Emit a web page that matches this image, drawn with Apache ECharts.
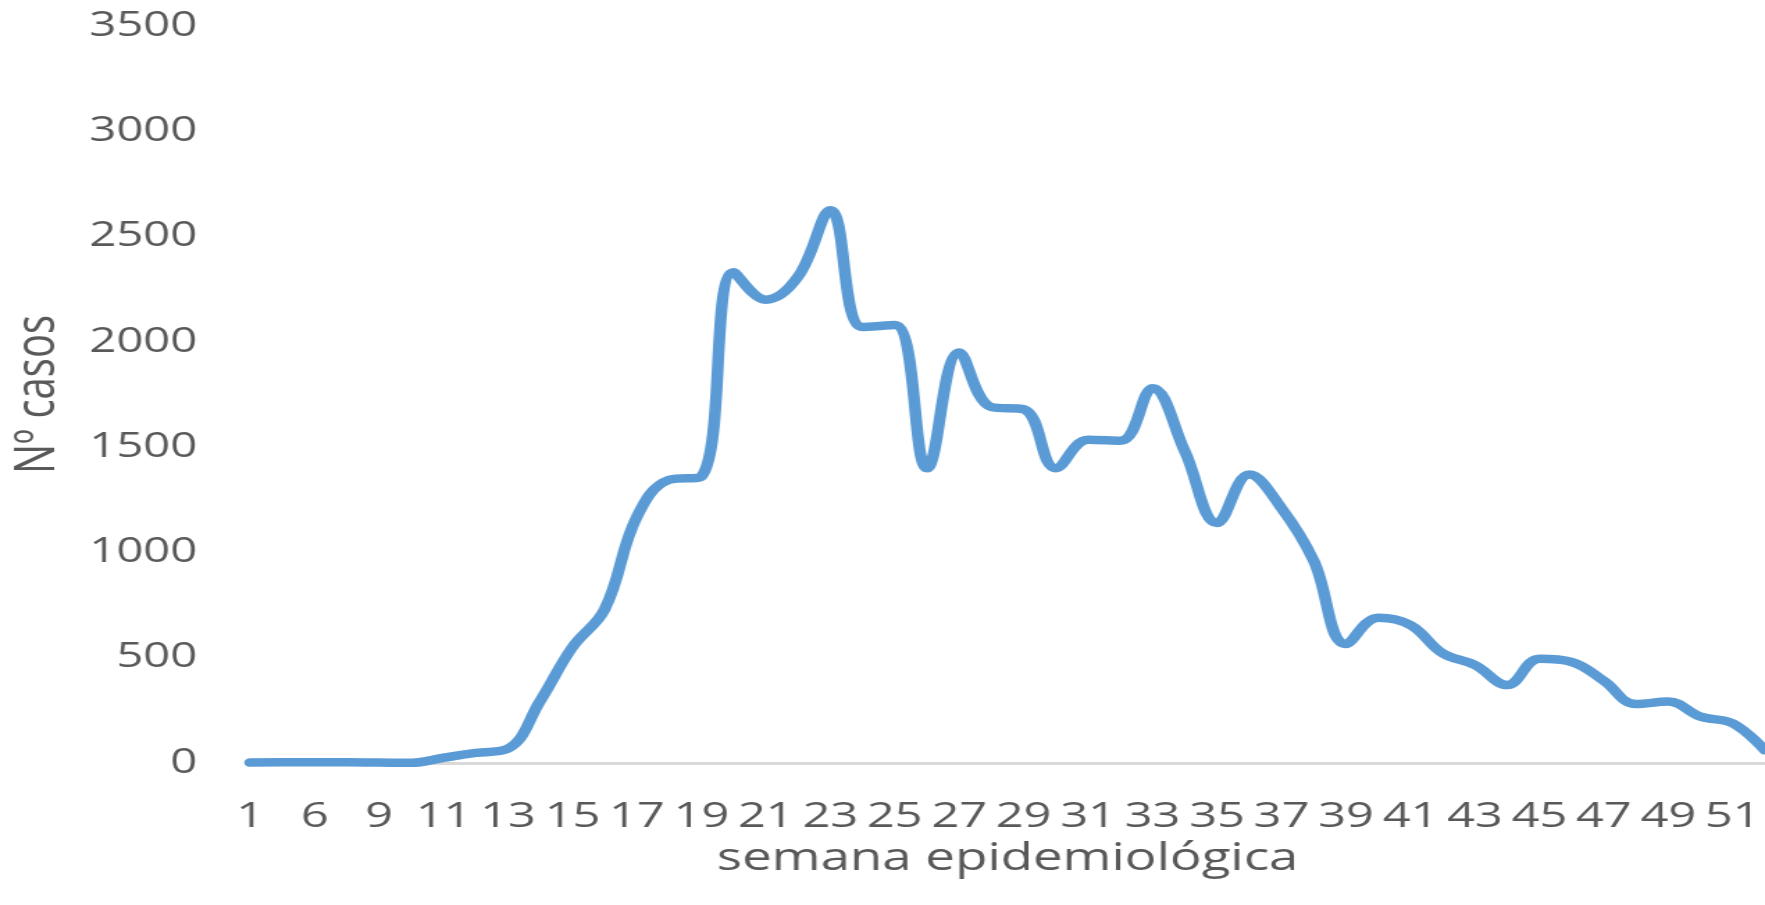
<!DOCTYPE html>
<html>
<head>
<meta charset="utf-8">
<script src="https://cdn.jsdelivr.net/npm/echarts@6/dist/echarts.min.js"></script>
<style>
html, body { margin: 0; padding: 0; overflow: hidden; background: #ffffff; }
#chart { width: 1270px; height: 905px; transform: scaleX(1.38976); transform-origin: 0 0; }
</style>
</head>
<body>
<div id="chart"></div>
<script>
// Epidemiological weeks (category axis)
const weeks = ['1','5','6','8','9','10','11','12','13','14','15','16','17','18','19','20','21','22','23','24','25','26','27','28','29','30','31','32','33','34','35','36','37','38','39','40','41','42','43','44','45','46','47','48','49','50','51','52'];
// Number of cases per week
const cases = [2,3,3,3,2,1,25,48,68,295,550,730,1170,1345,1360,2330,2200,2310,2625,2070,2080,1400,1950,1690,1680,1400,1535,1530,1780,1480,1140,1370,1210,960,565,690,655,521,465,370,495,480,390,280,292,220,188,60];
const yTicks = { min: 0, max: 3500, interval: 500 };
const xTitle = 'semana epidemiológica';
const yTitle = 'Nº casos';

const chart = echarts.init(document.getElementById('chart'), null, { renderer: 'canvas' });
const textColor = '#595959';
chart.setOption({
  animation: false,
  backgroundColor: '#ffffff',
  grid: { left: 177.5, right: -6.5, top: 26, bottom: 142, containLabel: false },
  xAxis: {
    type: 'category',
    data: weeks,
    boundaryGap: false,
    axisLine: { show: true, lineStyle: { color: '#D9D9D9', width: 3 } },
    axisTick: { show: false },
    axisLabel: { interval: 1, color: textColor, fontFamily: 'Open Sans', fontSize: 35, margin: 37 },
    splitLine: { show: false },
    name: xTitle,
    nameLocation: 'middle',
    nameGap: 72,
    nameTextStyle: { color: textColor, fontFamily: 'Open Sans', fontSize: 38 }
  },
  yAxis: {
    type: 'value',
    min: yTicks.min,
    max: yTicks.max,
    interval: yTicks.interval,
    axisLine: { show: false },
    axisTick: { show: false },
    splitLine: { show: false },
    axisLabel: {
      color: textColor, fontFamily: 'Open Sans', fontSize: 34, margin: 38,
      formatter: function (v) { return String(v); }
    },
    name: yTitle,
    nameLocation: 'middle',
    nameRotate: 90,
    nameGap: 132,
    nameTextStyle: { color: textColor, fontFamily: 'Open Sans', fontSize: 40 }
  },
  series: [{
    type: 'line',
    data: cases,
    smooth: 0.4,
    showSymbol: false,
    clip: false,
    lineStyle: { color: '#5B9BD5', width: 8.5, cap: 'round', join: 'round' }
  }]
});
</script>
</body>
</html>
